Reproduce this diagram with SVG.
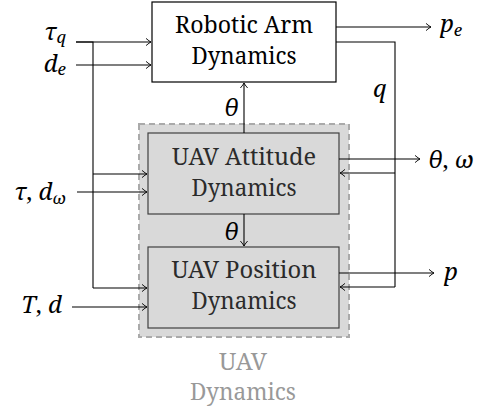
<svg xmlns="http://www.w3.org/2000/svg" width="482" height="414" viewBox="0 0 482 414">
  <defs>
    <marker id="to" viewBox="-6 -5 8 10" markerWidth="8" markerHeight="10" refX="0" refY="0" orient="auto" markerUnits="userSpaceOnUse">
      <path d="M-5,-3.6 Q-1.5,-0.6 0,0 Q-1.5,0.6 -5,3.6" fill="none" stroke="#000" stroke-width="0.9"/>
    </marker>
  </defs>
  <style>
    text { font-family: 'Noto Serif', 'DejaVu Serif', serif; }
    .box { fill: #fff; stroke: #000; stroke-width: 1.2; }
    .uav { fill: #d9d9d9; stroke: #404040; stroke-width: 1.2; }
    .group { fill: #d9d9d9; stroke: #aaaaaa; stroke-width: 2; stroke-dasharray: 6 4; }
    .lbl { font-size: 24px; text-anchor: middle; fill: #000; }
    .lbl-uav { fill: #2b2b2b; }
    .lbl-grp { font-size: 23px; text-anchor: middle; fill: #999999; }
    .math { font-size: 24px; font-style: italic; fill: #000; }
    .up { font-style: normal; }
    .sub { font-size: 17px; }
    .wire { fill: none; stroke: #000; stroke-width: 1.1; }
    .arr { marker-end: url(#to); }
  </style>

  <!-- dashed UAV subsystem frame -->
  <g id="uav-dynamics">
    <rect class="group" x="139" y="124" width="210" height="213"/>
    <text class="lbl-grp" x="243" y="370" textLength="48" lengthAdjust="spacingAndGlyphs">UAV</text>
    <text class="lbl-grp" x="243" y="400" textLength="106" lengthAdjust="spacingAndGlyphs">Dynamics</text>
  </g>

  <g id="robotic-arm">
    <rect class="box" x="152" y="2" width="184" height="80"/>
    <text class="lbl" x="244" y="33" textLength="138" lengthAdjust="spacingAndGlyphs">Robotic Arm</text>
    <text class="lbl" x="244" y="64" textLength="105" lengthAdjust="spacingAndGlyphs">Dynamics</text>
  </g>

  <g id="uav-attitude">
    <rect class="uav" x="148" y="133" width="191" height="81"/>
    <text class="lbl lbl-uav" x="244" y="165" textLength="144" lengthAdjust="spacingAndGlyphs">UAV Attitude</text>
    <text class="lbl lbl-uav" x="244" y="196" textLength="105" lengthAdjust="spacingAndGlyphs">Dynamics</text>
  </g>

  <g id="uav-position">
    <rect class="uav" x="148" y="247" width="191" height="81"/>
    <text class="lbl lbl-uav" x="244" y="278" textLength="145" lengthAdjust="spacingAndGlyphs">UAV Position</text>
    <text class="lbl lbl-uav" x="244" y="309" textLength="105" lengthAdjust="spacingAndGlyphs">Dynamics</text>
  </g>

  <g id="connectors">
    <!-- arm inputs -->
    <path class="wire arr" d="M76,42 H151"/>
    <path class="wire arr" d="M76,65 H151"/>
    <!-- tau_q trunk feeding both UAV blocks -->
    <path class="wire" d="M76,42 H93 V288"/>
    <path class="wire arr" d="M93,174 H147"/>
    <path class="wire arr" d="M93,288 H147"/>
    <!-- external UAV inputs -->
    <path class="wire arr" d="M77,192 H147"/>
    <path class="wire arr" d="M72,307 H147"/>
    <!-- theta couplings -->
    <path class="wire arr" d="M244,133 V83"/>
    <path class="wire arr" d="M244,214 V246"/>
    <!-- outputs -->
    <path class="wire arr" d="M336,27 H431"/>
    <path class="wire arr" d="M339,159 H420"/>
    <path class="wire arr" d="M339,273 H434"/>
    <!-- q feedback -->
    <path class="wire" d="M336,42 H395 V287"/>
    <path class="wire arr" d="M395,173 H340"/>
    <path class="wire arr" d="M395,287 H340"/>
  </g>

  <g id="signal-labels">
    <text class="math" x="66" y="40" text-anchor="end">τ<tspan class="sub" dy="3">q</tspan></text>
    <text class="math" x="66" y="72" text-anchor="end">d<tspan class="sub" dy="3">e</tspan></text>
    <text class="math" x="66" y="200" text-anchor="end">τ<tspan class="up">, </tspan>d<tspan class="sub" dy="4">ω</tspan></text>
    <text class="math" x="62" y="313" text-anchor="end">T<tspan class="up">, </tspan>d</text>
    <text class="math" x="224" y="116">θ</text>
    <text class="math" x="224" y="240">θ</text>
    <text class="math" x="373" y="97">q</text>
    <text class="math" x="440" y="32">p<tspan class="sub" dy="4">e</tspan></text>
    <text class="math" x="428" y="168">θ<tspan class="up">, </tspan>ω</text>
    <text class="math" x="444" y="280">p</text>
  </g>
</svg>
